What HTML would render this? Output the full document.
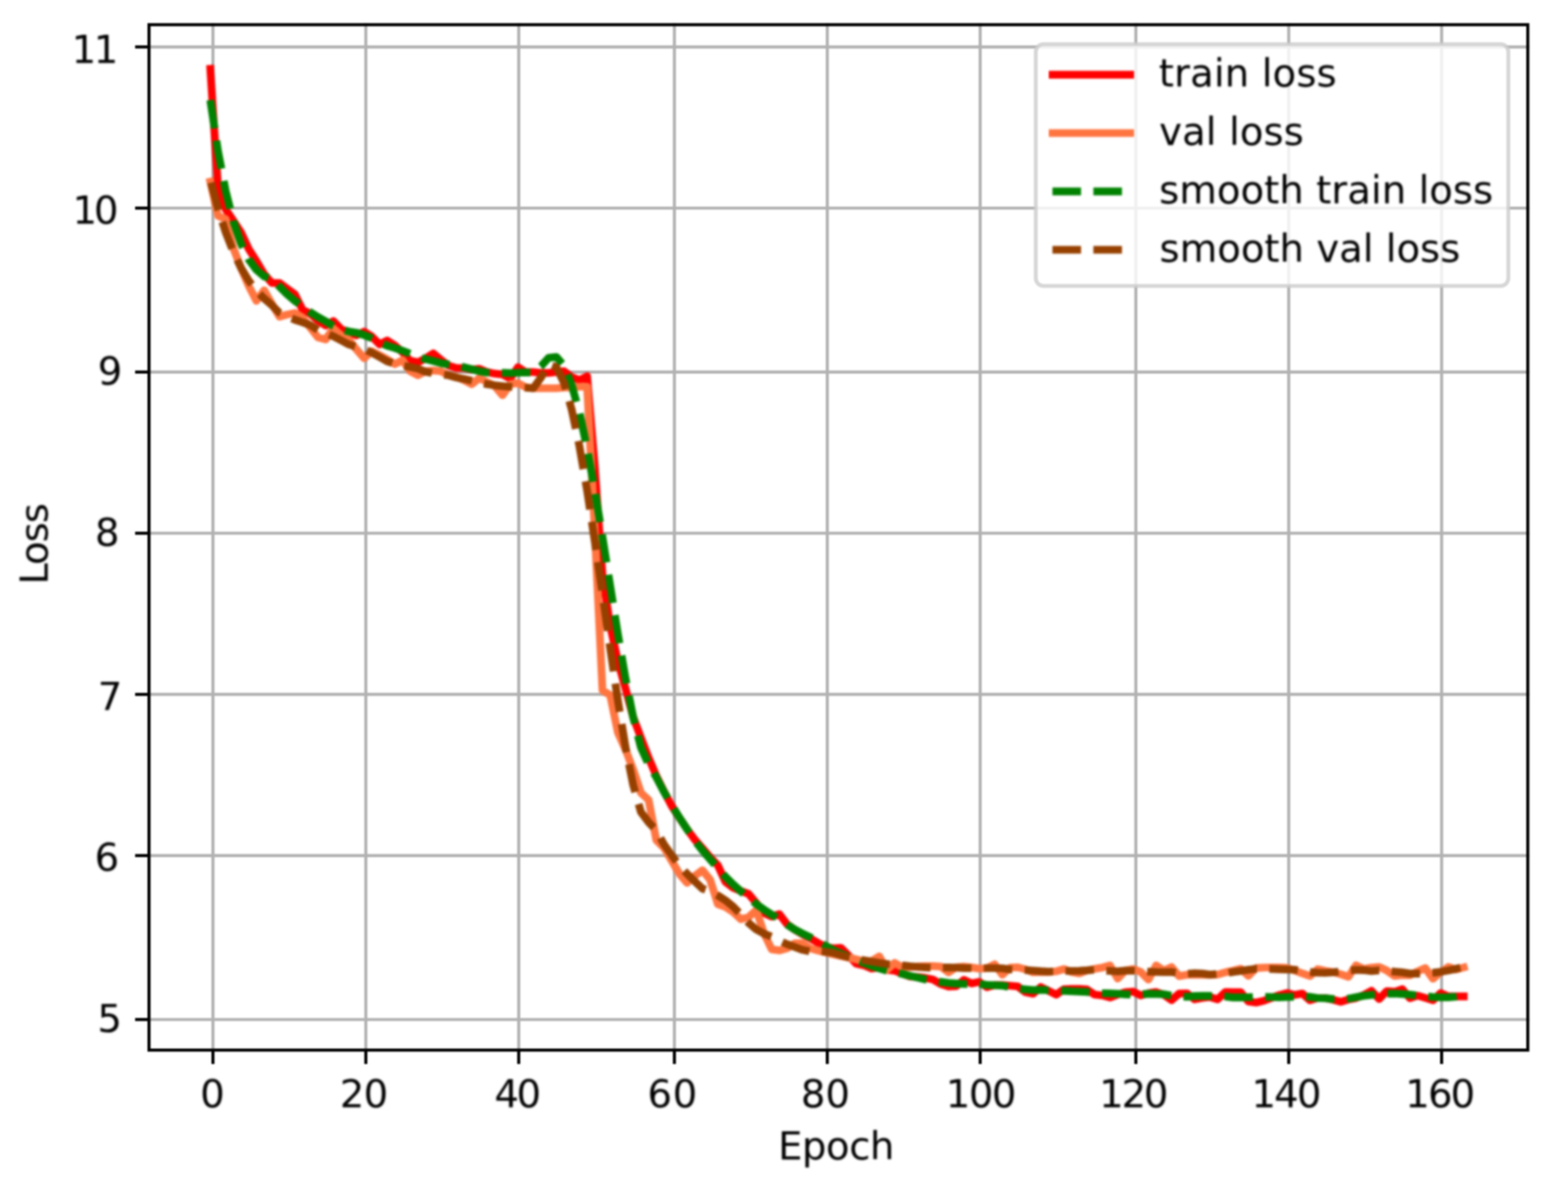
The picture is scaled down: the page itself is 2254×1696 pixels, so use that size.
<!DOCTYPE html>
<html lang="en"><head><meta charset="utf-8"><title>Training and validation loss per epoch</title>
<style>html,body{margin:0;padding:0;background:#fff}body{width:2254px;height:1696px}svg{display:block}text{font-family:"DejaVu Sans","Liberation Sans",sans-serif;font-size:13.889px;fill:#000000}</style></head><body>
<svg width="2254" height="1696" viewBox="0 0 2254 1696">
<defs><filter id="soft" x="0" y="0" width="2254" height="1696" filterUnits="userSpaceOnUse" color-interpolation-filters="sRGB"><feGaussianBlur stdDeviation="1.1"/></filter>
<filter id="aa" x="-5%" y="-5%" width="110%" height="110%" color-interpolation-filters="sRGB"><feGaussianBlur stdDeviation="0.3"/></filter>
<clipPath id="axclip"><rect x="80" y="57.6" width="496" height="369.6"/></clipPath></defs>
<rect width="2254" height="1696" fill="#ffffff"/>
<g filter="url(#soft)"><rect width="2254" height="1696" fill="#ffffff"/>
<g transform="matrix(3.996 0 0 3.994 -107.478 -198.149)">
<g fill="none" stroke="#b2b2b2" stroke-width="1.111" stroke-linecap="square">
<path d="M103.5 427.5V58.5"/>
<path d="M158.5 427.5V58.5"/>
<path d="M213.5 427.5V58.5"/>
<path d="M269.5 427.5V58.5"/>
<path d="M324.5 427.5V58.5"/>
<path d="M379.5 427.5V58.5"/>
<path d="M435.5 427.5V58.5"/>
<path d="M490.5 427.5V58.5"/>
<path d="M545.5 427.5V58.5"/>
<path d="M80.5 416.5H576.5"/>
<path d="M80.5 357.5H576.5"/>
<path d="M80.5 299.5H576.5"/>
<path d="M80.5 241.5H576.5"/>
<path d="M80.5 183.5H576.5"/>
<path d="M80.5 124.5H576.5"/>
<path d="M80.5 66.5H576.5"/>
</g>
<g fill="none" stroke="#000000" stroke-width="1.111">
<path d="M103.5 427.5v5"/>
<path d="M158.5 427.5v5"/>
<path d="M213.5 427.5v5"/>
<path d="M269.5 427.5v5"/>
<path d="M324.5 427.5v5"/>
<path d="M379.5 427.5v5"/>
<path d="M435.5 427.5v5"/>
<path d="M490.5 427.5v5"/>
<path d="M545.5 427.5v5"/>
<path d="M80.5 416.5h-5"/>
<path d="M80.5 357.5h-5"/>
<path d="M80.5 299.5h-5"/>
<path d="M80.5 241.5h-5"/>
<path d="M80.5 183.5h-5"/>
<path d="M80.5 124.5h-5"/>
<path d="M80.5 66.5h-5"/>
</g>
<g clip-path="url(#axclip)"><g filter="url(#aa)" fill="none" stroke-width="2.778" stroke-linejoin="round">
<path stroke="#ff0000" stroke-linecap="square" d="M102.545 74.4L105.312 116.772L108.078 124.931L110.844 129.011L113.611 133.266L116.377 139.21L119.143 143.582L121.91 148.244L124.676 151.45L127.442 151.45L130.209 153.49L132.975 155.53L135.741 161.066L138.508 162.524L141.274 164.971L144.04 166.778L146.806 165.146L149.573 168.002L152.339 169.284L155.105 170.333L157.872 168.935L160.638 170.683L163.404 173.539L166.171 172.14L168.937 173.889L171.703 176.395L174.47 179.425L177.236 180.008L180.002 178.551L182.769 176.803L185.535 179.134L188.301 181.174L191.067 182.048L193.834 182.048L196.6 182.631L199.366 182.34L202.133 183.505L204.899 184.088L207.665 184.38L210.432 185.837L213.198 181.757L215.964 183.505L218.731 183.505L221.497 183.797L224.263 183.797L227.03 183.505L229.796 183.214L232.562 185.254L235.328 186.419L238.095 184.962L240.861 217.601L243.627 256.65L246.394 274.718L249.16 287.54L251.926 297.448L254.693 307.764L257.459 315.049L260.225 322.276L262.992 328.804L265.758 334.399L268.524 339.645L271.291 343.899L274.057 347.979L276.823 351.768L279.59 354.857L282.356 358.12L285.122 360.976L287.888 366.979L290.655 369.136L293.421 370.243L296.187 371.292L298.954 374.556L301.72 378.228L304.486 379.452L307.253 378.578L310.019 382.191L312.785 384.173L315.552 385.805L318.318 387.262L321.084 388.894L323.851 390.351L326.617 390.875L329.383 390.7L332.149 393.44L334.916 396.412L337.682 396.995L340.448 398.161L343.215 397.753L345.981 398.627L348.747 398.918L351.514 400.026L354.28 401.016L357.046 401.191L359.813 401.541L362.579 402.124L365.345 403.756L368.112 404.63L370.878 404.513L373.644 402.24L376.41 403.523L379.177 402.94L381.943 404.863L384.709 404.105L387.476 404.105L390.242 404.339L393.008 404.572L395.775 406.67L398.541 407.194L401.307 404.805L404.074 406.145L406.84 407.544L409.606 405.621L412.373 405.446L415.139 405.446L417.905 405.679L420.672 407.544L423.438 407.836L426.204 408.593L428.97 407.544L431.737 406.67L434.503 406.437L437.269 407.836L440.036 407.02L442.802 406.612L445.568 407.602L448.335 409.526L451.101 407.136L453.867 407.078L456.634 409.234L459.4 408.71L462.166 408.418L464.933 409.234L467.699 406.612L470.465 406.67L473.231 406.67L475.998 410.05L478.764 410.4L481.53 409.759L484.297 408.71L487.063 407.719L489.829 406.961L492.596 407.661L495.362 407.136L498.128 409.584L500.895 408.768L503.661 408.768L506.427 409.351L509.194 410.109L511.96 409.293L514.726 408.768L517.492 407.661L520.259 406.145L523.025 409.118L525.791 406.262L528.558 406.495L531.324 405.563L534.09 408.826L536.857 407.894L539.623 408.71L542.389 409.584L545.156 406.961L547.922 408.185L550.688 408.185L553.455 408.185"/>
<path stroke="#ff7540" stroke-linecap="square" d="M102.545 115.023L105.312 127.262L108.078 128.428L110.844 138.919L113.611 146.088L116.377 152.499L119.143 157.861L121.91 154.073L124.676 158.91L127.442 163.573L130.209 162.815L132.975 162.232L135.741 163.922L138.508 167.478L141.274 171.033L144.04 171.79L146.806 167.827L149.573 170.333L152.339 171.79L155.105 175.346L157.872 178.551L160.638 176.045L163.404 177.444L166.171 178.901L168.937 180.649L171.703 179.251L174.47 183.214L177.236 184.671L180.002 183.214L182.769 182.922L185.535 183.214L188.301 184.671L191.067 185.254L193.834 186.419L196.6 187.876L199.366 185.662L202.133 187.119L204.899 188.576L207.665 191.84L210.432 187.876L213.198 187.469L215.964 188.926L218.731 189.334L221.497 189.334L224.263 189.334L227.03 189.334L229.796 189.042L232.562 189.042L235.328 188.751L238.095 188.751L240.861 240.914L243.627 298.031L246.394 299.779L249.16 313.184L251.926 319.362L254.693 326.589L257.459 334.924L260.225 337.488L262.992 351.942L265.758 354.682L268.524 359.344L271.291 364.065L274.057 367.329L276.823 364.823L279.59 362.783L282.356 366.222L285.122 374.964L287.888 376.013L290.655 377.82L293.421 380.384L296.187 379.627L298.954 377.121L301.72 385.455L304.486 391.225L307.253 391.633L310.019 390.875L312.785 389.069L315.552 389.069L318.318 390.875L321.084 391.633L323.851 392.332L326.617 393.032L329.383 393.615L332.149 394.197L334.916 394.839L337.682 395.538L340.448 395.421L343.215 393.789L345.981 398.627L348.747 396.121L351.514 397.694L354.28 397.636L357.046 397.403L359.813 397.286L362.579 397.286L365.345 397.461L368.112 399.559L370.878 397.694L373.644 397.461L376.41 397.753L379.177 398.219L381.943 397.986L384.709 396.645L387.476 400.375L390.242 397.811L393.008 397.694L395.775 398.452L398.541 399.501L401.307 399.385L404.074 399.443L406.84 399.151L409.606 398.335L412.373 399.385L415.139 399.909L417.905 398.86L420.672 398.277L423.438 397.811L426.204 397.053L428.97 401.774L431.737 398.86L434.503 398.335L437.269 399.385L440.036 402.124L442.802 397.053L445.568 398.918L448.335 397.636L451.101 400.9L453.867 400.375L456.634 400.375L459.4 400.375L462.166 400.434L464.933 400.317L467.699 399.501L470.465 398.918L473.231 398.219L475.998 400.783L478.764 397.986L481.53 397.811L484.297 397.753L487.063 397.753L489.829 397.869L492.596 398.86L495.362 399.909L498.128 400.842L500.895 398.394L503.661 398.977L506.427 399.443L509.194 400.201L511.96 401.133L514.726 396.995L517.492 398.335L520.259 397.811L523.025 397.578L525.791 398.86L528.558 400.842L531.324 400.492L534.09 400.55L536.857 399.21L539.623 397.986L542.389 401.832L545.156 399.443L547.922 397.578L550.688 398.51L553.455 397.753"/>
<path stroke="#008200" stroke-dasharray="10.278 4.444" stroke-dashoffset="0" d="M102.545 85.654L105.312 103.936L108.078 118.308L110.844 129.273L113.611 137.33L116.377 142.982L119.143 146.73L121.91 149.075L124.676 149.716L127.442 152.778L130.209 155.535L132.975 157.891L135.741 159.887L138.508 161.953L141.274 163.689L144.04 165.227L146.806 166.948L149.573 168.121L152.339 168.889L155.105 169.319L157.872 170.193L160.638 171.337L163.404 172.761L166.171 174.03L168.937 174.858L171.703 175.83L174.47 176.917L177.236 178.016L180.002 178.85L182.769 179.516L185.535 180.29L188.301 180.741L191.067 181.037L193.834 181.784L196.6 182.486L199.366 183.216L202.133 183.679L204.899 183.729L207.665 183.768L210.432 183.857L213.198 183.767L215.964 183.611L218.731 183.691L221.497 181.401L224.263 178.366L227.03 178.054L229.796 181.241L232.562 188.25L235.328 198.046L238.095 210.935L240.861 226.1L243.627 242.866L246.394 260.41L249.16 277.731L251.926 293.824L254.693 307.838L257.459 318.616L260.225 324.683L262.992 329.322L265.758 334.615L268.524 339.333L271.291 343.821L274.057 348.027L276.823 352.102L279.59 355.666L282.356 358.859L285.122 361.991L287.888 365.149L290.655 367.887L293.421 370.4L296.187 372.748L298.954 374.948L301.72 376.925L304.486 378.728L307.253 380.396L310.019 382.372L312.785 384.1L315.552 385.529L318.318 386.86L321.084 388.237L323.851 389.915L326.617 391.51L329.383 392.739L332.149 393.944L334.916 395.067L337.682 396.165L340.448 397.185L343.215 398.128L345.981 398.928L348.747 399.595L351.514 400.075L354.28 400.778L357.046 401.437L359.813 402.078L362.579 402.551L365.345 402.975L368.112 403.338L370.878 403.554L373.644 403.721L376.41 403.741L379.177 403.772L381.943 404.036L384.709 404.134L387.476 404.301L390.242 404.839L393.008 405.407L395.775 405.665L398.541 405.906L401.307 405.841L404.074 405.971L406.84 406.018L409.606 406.172L412.373 406.351L415.139 406.445L417.905 406.581L420.672 406.923L423.438 407.022L426.204 407.088L428.97 407.21L431.737 407.438L434.503 407.545L437.269 407.367L440.036 407.238L442.802 407.32L445.568 407.417L448.335 407.897L451.101 408.213L453.867 408.334L456.634 408.051L459.4 407.984L462.166 407.993L464.933 408.038L467.699 408.191L470.465 408.565L473.231 408.561L475.998 408.47L478.764 408.347L481.53 408.362L484.297 408.397L487.063 408.542L489.829 408.402L492.596 408.302L495.362 408.137L498.128 408.362L500.895 408.762L503.661 408.843L506.427 409.123L509.194 409.15L511.96 408.998L514.726 408.47L517.492 407.952L520.259 407.626L523.025 407.265L525.791 407.226L528.558 407.156L531.324 407.299L534.09 407.506L536.857 407.831L539.623 408.139L542.389 408.382L545.156 408.515L547.922 408.491L550.688 408.266L553.455 407.792"/>
<path stroke="#964000" stroke-dasharray="10.278 4.444" stroke-dashoffset="-1" d="M102.545 114.361L105.312 124.634L108.078 133.214L110.844 140.282L113.611 146.019L116.377 150.604L119.143 154.218L121.91 157.041L124.676 159.415L127.442 162.172L130.209 163.518L132.975 164.687L135.741 165.585L138.508 166.595L141.274 168.392L144.04 169.462L146.806 170.622L149.573 172.073L152.339 173.568L155.105 174.457L157.872 175.272L160.638 176.502L163.404 178.065L166.171 179.647L168.937 180.478L171.703 181.195L174.47 181.686L177.236 182.265L180.002 183.371L182.769 183.956L185.535 184.391L188.301 184.647L191.067 185.48L193.834 185.986L196.6 186.58L199.366 187.305L202.133 187.87L204.899 188.283L207.665 188.546L210.432 188.806L213.198 188.961L215.964 189.117L218.731 189.333L221.497 185.508L224.263 180.692L227.03 181.765L229.796 187.365L232.562 197.036L235.328 210.155L238.095 226.107L240.861 244.497L243.627 263.291L246.394 282.824L249.16 301.65L251.926 318.504L254.693 332.244L257.459 341.846L260.225 345.535L262.992 348.431L265.758 353.488L268.524 357.355L271.291 361.093L274.057 364.095L276.823 366.782L279.59 369.391L282.356 370.37L285.122 371.852L287.888 373.612L290.655 375.877L293.421 378.708L296.187 381.749L298.954 384.097L301.72 385.607L304.486 386.695L307.253 388.139L310.019 389.36L312.785 390.414L315.552 391.415L318.318 391.987L321.084 391.797L323.851 392.109L326.617 392.491L329.383 393.372L332.149 394.119L334.916 394.697L337.682 395.163L340.448 395.669L343.215 396.117L345.981 396.487L348.747 396.657L351.514 397.021L354.28 397.339L357.046 397.578L359.813 397.769L362.579 397.904L365.345 397.804L368.112 397.78L370.878 397.824L373.644 397.97L376.41 398.028L379.177 397.995L381.943 398.004L384.709 398.024L387.476 398.09L390.242 398.481L393.008 398.615L395.775 398.684L398.541 398.87L401.307 399.102L404.074 399.266L406.84 399.185L409.606 399.028L412.373 399.022L415.139 398.957L417.905 398.793L420.672 398.566L423.438 398.899L426.204 398.996L428.97 399.165L431.737 398.919L434.503 398.929L437.269 399.11L440.036 399.276L442.802 399.402L445.568 399.463L448.335 399.404L451.101 399.839L453.867 400.026L456.634 399.825L459.4 399.949L462.166 400.342L464.933 400.127L467.699 399.905L470.465 399.369L473.231 399.007L475.998 398.596L478.764 398.258L481.53 398.29L484.297 398.337L487.063 398.442L489.829 398.517L492.596 398.573L495.362 398.955L498.128 399.411L500.895 399.618L503.661 399.693L506.427 399.521L509.194 399.134L511.96 398.818L514.726 398.627L517.492 398.723L520.259 399.068L523.025 398.842L525.791 398.97L528.558 399.27L531.324 399.508L534.09 399.958L536.857 399.978L539.623 399.883L542.389 399.667L545.156 399.327L547.922 398.857L550.688 398.254L553.455 397.512"/>
</g></g>
<rect x="80.5" y="58.5" width="496" height="369" fill="none" stroke="#000000" stroke-width="1.111"/>
<g filter="url(#aa)">
<text x="103.297" y="447.922" text-anchor="middle">0</text>
<text x="157.746" y="447.922" text-anchor="middle" letter-spacing="-0.225">20</text>
<text x="212.697" y="447.922" text-anchor="middle" letter-spacing="-0.901">40</text>
<text x="268.9" y="447.922" text-anchor="middle" letter-spacing="0.225">60</text>
<text x="323.851" y="447.922" text-anchor="middle">80</text>
<text x="379.552" y="447.922" text-anchor="middle" letter-spacing="-0.563">100</text>
<text x="434.378" y="447.922" text-anchor="middle" letter-spacing="-0.789">120</text>
<text x="489.329" y="447.922" text-anchor="middle" letter-spacing="-0.676">140</text>
<text x="544.655" y="447.922" text-anchor="middle" letter-spacing="-0.676">160</text>
<text x="70.779" y="421.012" text-anchor="end">5</text>
<text x="69.777" y="362.729" text-anchor="end">6</text>
<text x="70.904" y="304.947" text-anchor="end">7</text>
<text x="69.902" y="245.913" text-anchor="end">8</text>
<text x="70.904" y="187.881" text-anchor="end">9</text>
<text x="68.4" y="130.099" text-anchor="end" letter-spacing="-1.127">10</text>
<text x="68.525" y="72.066" text-anchor="end" letter-spacing="-0.901">11</text>
<text x="327.624" y="466.727" text-anchor="middle" letter-spacing="-0.169">Epoch</text>
<text x="43.972" y="245.53" text-anchor="middle" letter-spacing="-0.376" transform="rotate(-90 43.972 245.53)">Loss</text>
</g>
<rect x="399.5" y="65.5" width="170" height="87" rx="2.778" ry="2.778" fill="#ffffff" fill-opacity="0.8" stroke="#cccccc" stroke-opacity="0.8" stroke-width="1.389"/>
<g filter="url(#aa)" fill="none" stroke-width="2.778">
<path stroke="#ff0000" stroke-linecap="square" d="M405.5 76.5H433.5"/>
<path stroke="#ff7540" stroke-linecap="square" d="M405.5 97.5H433.5"/>
<path stroke="#008200" stroke-dasharray="10.278 4.444" d="M405.5 118.5H433.5"/>
<path stroke="#964000" stroke-dasharray="10.278 4.444" d="M405.5 139.5H433.5"/>
</g>
<g filter="url(#aa)">
<text x="443.75" y="80.599" text-anchor="start" letter-spacing="0.05">train loss</text>
<text x="443.875" y="101.794" text-anchor="start" letter-spacing="0.032">val loss</text>
<text x="443.875" y="122.739" text-anchor="start" letter-spacing="0.014">smooth train loss</text>
<text x="444" y="143.683" text-anchor="start">smooth val loss</text>
</g>
</g></g></svg></body></html>
